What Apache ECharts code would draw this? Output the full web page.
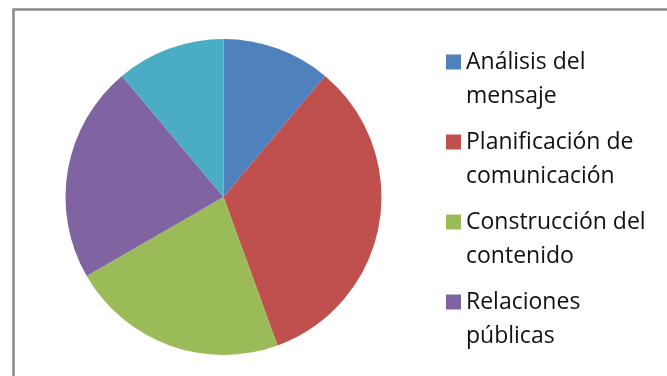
<!DOCTYPE html>
<html>
<head>
<meta charset="utf-8">
<script src="https://cdn.jsdelivr.net/npm/echarts@6/dist/echarts.min.js"></script>
<style>
html,body{margin:0;padding:0;background:#fff;}
#chart{width:667px;height:376px;}
</style>
</head>
<body>
<div id="chart"></div>
<script>
const categories = ['Análisis del mensaje', 'Planificación de comunicación', 'Construcción del contenido', 'Relaciones públicas', 'Evaluación'];
const values = [1, 3, 2, 2, 1];
const colors = ['#4F81BD', '#C0504D', '#9BBB59', '#8064A2', '#4BACC6'];
const legendLabels = {
  'Análisis del mensaje': 'Análisis del\nmensaje',
  'Planificación de comunicación': 'Planificación de\ncomunicación',
  'Construcción del contenido': 'Construcción del\ncontenido',
  'Relaciones públicas': 'Relaciones\npúblicas',
  'Evaluación': 'Evaluación'
};

const chart = echarts.init(document.getElementById('chart'), null, {renderer: 'canvas'});
chart.setOption({
  animation: false,
  backgroundColor: '#ffffff',
  color: colors,
  graphic: [{
    type: 'rect',
    shape: {x: 13.5, y: 9.5, width: 800, height: 500},
    style: {fill: 'none', stroke: '#8a8a8a', lineWidth: 2.5},
    silent: true
  }],
  legend: {
    orient: 'vertical',
    left: 446,
    top: 45,
    padding: 0,
    data: categories.slice(0, 4),
    itemWidth: 15,
    itemHeight: 49,
    itemGap: 12,
    icon: 'path://M0,0h15v15h-15zM0,49',
    formatter: n => legendLabels[n],
    textStyle: {fontFamily: 'Open Sans', fontSize: 23, lineHeight: 34, color: '#111'},
    selectedMode: false
  },
  series: [{
    type: 'pie',
    center: [223.5, 197],
    radius: 158,
    startAngle: 90,
    clockwise: true,
    label: {show: false},
    labelLine: {show: false},
    emphasis: {disabled: true},
    itemStyle: {borderWidth: 0},
    data: categories.map((c, i) => ({name: c, value: values[i]}))
  }]
});
</script>
</body>
</html>
